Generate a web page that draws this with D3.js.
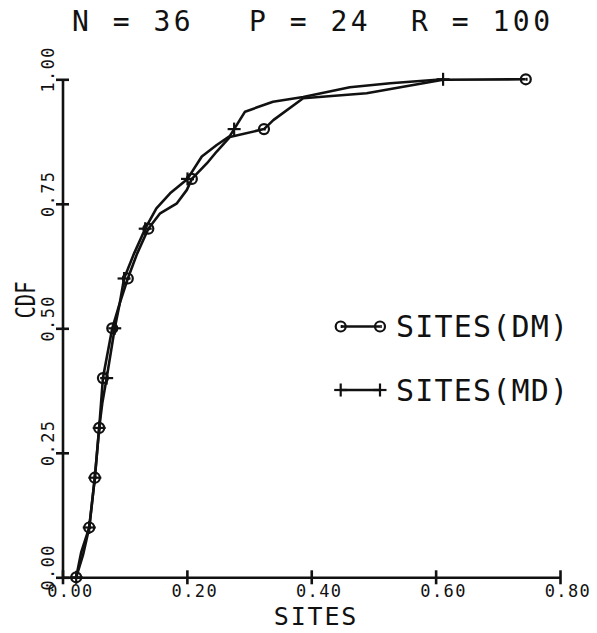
<!DOCTYPE html>
<html>
<head>
<meta charset="utf-8">
<script src="https://cdn.jsdelivr.net/npm/d3@7"></script>
<style>
  html, body { margin: 0; padding: 0; background: #fff; }
  svg { display: block; }
  text { font-family: "DejaVu Sans Mono", monospace; fill: #111; }
</style>
</head>
<body>
<svg id="chart" width="597" height="633"></svg>
<script>
// ---- data ----
const titleParts = ["N = 36", "P = 24", "R = 100"];
const xTickValues = [0.0, 0.2, 0.4, 0.6, 0.8];
const xTickLabels = ["0.00", "0.20", "0.40", "0.60", "0.80"];
const yTickValues = [0.0, 0.25, 0.5, 0.75, 1.0];
const yTickLabels = ["0.00", "0.25", "0.50", "0.75", "1.00"];
const xLabel = "SITES";
const yLabel = "CDF";
const seriesNames = ["SITES(DM)", "SITES(MD)"];

// marker levels of the CDF
const cdfLevels = [0.0, 0.1, 0.2, 0.3, 0.4, 0.5, 0.6, 0.7, 0.8, 0.9, 1.0];
const dmMarkerX = [0.022, 0.043, 0.052, 0.059, 0.065, 0.080, 0.105, 0.138, 0.208, 0.324, 0.745];
const mdMarkerX = [0.022, 0.043, 0.052, 0.059, 0.071, 0.084, 0.099, 0.133, 0.201, 0.276, 0.612];

// full traced curves
const dmLineX = [0.022, 0.030, 0.043, 0.052, 0.059, 0.062, 0.065, 0.080, 0.092, 0.105, 0.120, 0.138, 0.157, 0.184, 0.200, 0.208, 0.232, 0.248, 0.269, 0.324, 0.339, 0.387, 0.489, 0.548, 0.612, 0.745];
const dmLineY = [0.000, 0.050, 0.100, 0.200, 0.300, 0.350, 0.400, 0.500, 0.550, 0.600, 0.650, 0.700, 0.731, 0.751, 0.778, 0.800, 0.831, 0.855, 0.884, 0.900, 0.918, 0.962, 0.972, 0.985, 0.999, 1.000];
const mdLineX = [0.022, 0.033, 0.043, 0.052, 0.059, 0.064, 0.071, 0.084, 0.092, 0.099, 0.115, 0.133, 0.151, 0.173, 0.201, 0.224, 0.248, 0.269, 0.276, 0.2935, 0.3385, 0.387, 0.462, 0.527, 0.612];
const mdLineY = [0.000, 0.045, 0.100, 0.200, 0.300, 0.350, 0.400, 0.500, 0.550, 0.600, 0.650, 0.700, 0.741, 0.771, 0.800, 0.845, 0.868, 0.886, 0.900, 0.935, 0.955, 0.9645, 0.984, 0.992, 1.000];

// ---- drawing ----
const svg = d3.select("#chart");
const x = d3.scaleLinear().domain([0, 0.8]).range([62.5, 560]);
const y = d3.scaleLinear().domain([0, 1]).range([577.3, 79.3]);
const SW = 2.6;

// title
const titleX = [72, 249, 411];
svg.selectAll("text.title").data(titleParts).join("text")
  .attr("class", "title")
  .attr("x", (d, i) => titleX[i]).attr("y", 31)
  .attr("font-size", 28).attr("letter-spacing", 3.5)
  .text(d => d);

// x axis
const xAxis = d3.axisBottom(x).tickValues(xTickValues).tickSizeOuter(0).tickFormat("");
const gx = svg.append("g").attr("transform", `translate(0,${y(0)})`).call(xAxis);
gx.select(".domain").attr("stroke", "#111").attr("stroke-width", SW);
gx.selectAll(".tick line").attr("y1", -7).attr("y2", 7).attr("stroke", "#111").attr("stroke-width", SW);

// y axis
const yAxis = d3.axisLeft(y).tickValues(yTickValues).tickSizeOuter(0).tickFormat("");
const gy = svg.append("g").attr("transform", `translate(${x(0)},0)`).call(yAxis);
gy.select(".domain").attr("stroke", "#111").attr("stroke-width", SW);
gy.selectAll(".tick line").attr("x1", -6.5).attr("x2", 6.5).attr("stroke", "#111").attr("stroke-width", SW);

// tick labels (plotter-style offset along text direction)
svg.selectAll("text.xt").data(xTickValues).join("text")
  .attr("class", "xt")
  .attr("x", d => x(d) + 8).attr("y", 597)
  .attr("text-anchor", "middle").attr("font-size", 17).attr("letter-spacing", 1.4)
  .text((d, i) => xTickLabels[i]);

svg.selectAll("text.yt").data(yTickValues).join("text")
  .attr("class", "yt")
  .attr("transform", d => `translate(54,${y(d) - 10}) rotate(-90)`)
  .attr("text-anchor", "middle").attr("font-size", 17).attr("letter-spacing", 1.4)
  .text((d, i) => yTickLabels[i]);

// axis titles
svg.append("text")
  .attr("x", 316).attr("y", 625)
  .attr("text-anchor", "middle").attr("font-size", 25).attr("letter-spacing", 1.8)
  .text(xLabel);

svg.append("text")
  .attr("transform", `translate(34.5,300) rotate(-90)`)
  .attr("text-anchor", "middle").attr("font-size", 26)
  .attr("textLength", 37).attr("lengthAdjust", "spacingAndGlyphs")
  .text(yLabel);

// curves
const line = d3.line().x(d => x(d[0])).y(d => y(d[1]));
const dmPts = dmLineX.map((v, i) => [v, dmLineY[i]]);
const mdPts = mdLineX.map((v, i) => [v, mdLineY[i]]);

svg.append("path").datum(dmPts).attr("d", line)
  .attr("fill", "none").attr("stroke", "#111").attr("stroke-width", SW).attr("stroke-linejoin", "round");
svg.append("path").datum(mdPts).attr("d", line)
  .attr("fill", "none").attr("stroke", "#111").attr("stroke-width", SW).attr("stroke-linejoin", "round");

function drawCircle(g, cx, cy) {
  g.append("circle").attr("cx", cx).attr("cy", cy).attr("r", 5)
    .attr("fill", "#fff").attr("fill-opacity", 0).attr("stroke", "#111").attr("stroke-width", 2.2);
  g.append("line").attr("x1", cx + 1).attr("x2", cx + 1).attr("y1", cy - 1.5).attr("y2", cy + 1.5)
    .attr("stroke", "#111").attr("stroke-width", 1.6);
}
function drawCross(g, cx, cy) {
  g.append("line").attr("x1", cx - 6.5).attr("x2", cx + 6.5).attr("y1", cy).attr("y2", cy)
    .attr("stroke", "#111").attr("stroke-width", 2.2);
  g.append("line").attr("x1", cx).attr("x2", cx).attr("y1", cy - 6.5).attr("y2", cy + 6.5)
    .attr("stroke", "#111").attr("stroke-width", 2.2);
}

const gm = svg.append("g");
cdfLevels.forEach((c, i) => drawCircle(gm, x(dmMarkerX[i]), y(c)));
cdfLevels.forEach((c, i) => drawCross(gm, x(mdMarkerX[i]), y(c)));

// legend
const lg = svg.append("g");
lg.append("line").attr("x1", 340.7).attr("x2", 380).attr("y1", 326.5).attr("y2", 326.5)
  .attr("stroke", "#111").attr("stroke-width", SW);
drawCircle(lg, 340.7, 326.5);
drawCircle(lg, 380, 326.5);
lg.append("line").attr("x1", 340.7).attr("x2", 380).attr("y1", 390).attr("y2", 390)
  .attr("stroke", "#111").attr("stroke-width", SW);
drawCross(lg, 340.7, 390);
drawCross(lg, 380, 390);
lg.selectAll("text").data(seriesNames).join("text")
  .attr("x", 396).attr("y", (d, i) => i === 0 ? 337 : 401)
  .attr("font-size", 30).attr("letter-spacing", 1.2)
  .text(d => d);
</script>
</body>
</html>
